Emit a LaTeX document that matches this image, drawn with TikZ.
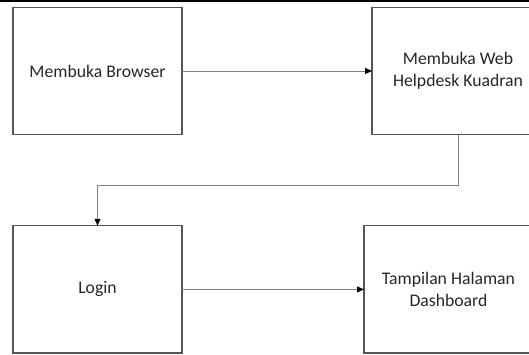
\documentclass[tikz,border=0pt]{standalone}
\usepackage{fontspec}
\setmainfont{Carlito}
\usetikzlibrary{arrows.meta}
\definecolor{boxline}{HTML}{555555}
\definecolor{conline}{HTML}{808080}
\begin{document}
\begin{tikzpicture}[x=1pt,y=-1pt,
  procbox/.style={draw=boxline,line width=1.4pt,rectangle,inner sep=0pt,outer sep=0pt,
    align=center,font=\fontsize{17.7}{21.6}\selectfont,text=black!85},
  conn/.style={draw=conline,line width=0.9pt,-{Triangle[length=7pt,width=6pt,color=black]}}]
\useasboundingbox (0,0) rectangle (529,354);
\clip (0,0) rectangle (529,354);
\draw[line width=2.4pt,black] (-5,1.2) -- (535,1.2);
\node[procbox,minimum width=169pt,minimum height=127pt] (b1) at (97.5,71) {Membuka Browser};
\node[procbox,minimum width=172pt,minimum height=127pt] (b2) at (458,71) {Membuka Web\\Helpdesk Kuadran};
\node[procbox,minimum width=169pt,minimum height=127.3pt] (b3) at (97.5,289.4) {Login};
\node[procbox,minimum width=169pt,minimum height=127.3pt] (b4) at (448.5,289.4) {Tampilan Halaman\\Dashboard};
\coordinate (k1) at (b2.south |- 0,185);
\coordinate (k2) at (b3.north |- 0,185);
\draw[conn] (b1.east) -- (b2.west);
\draw[conn] (b3.east) -- (b4.west);
\draw[conn] (b2.south) -- (k1) -- (k2) -- (b3.north);
\end{tikzpicture}
\end{document}
